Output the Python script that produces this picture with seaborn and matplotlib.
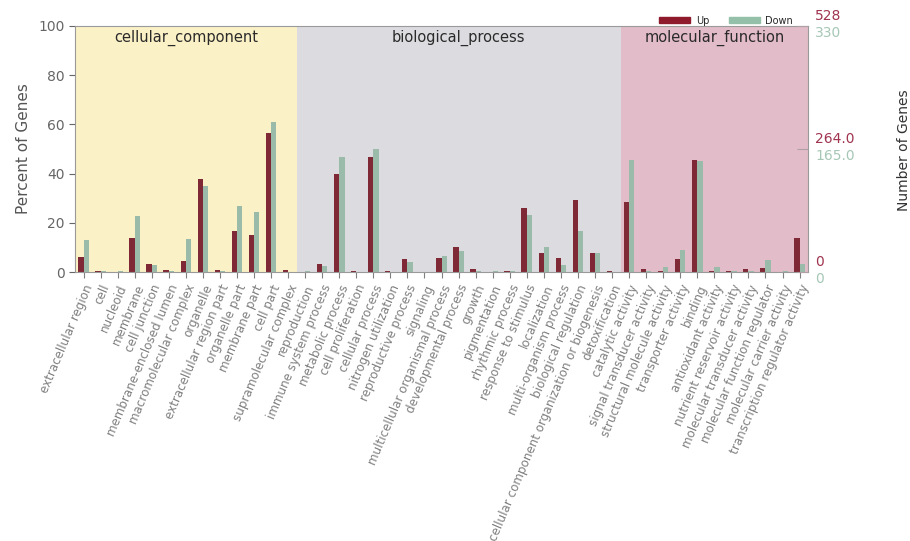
import pandas as pd
import seaborn as sns
import matplotlib.pyplot as plt
from matplotlib.patches import Patch


# ----------------------------
# Data (percent of genes)
# ----------------------------

cc_terms = [
    "extracellular region", "cell", "nucleoid", "membrane", "cell junction",
    "membrane-enclosed lumen", "macromolecular complex", "organelle",
    "extracellular region part", "organelle part", "membrane part", "cell part",
    "supramolecular complex",
]
bp_terms = [
    "reproduction", "immune system process", "metabolic process", "cell proliferation",
    "cellular process", "nitrogen utilization", "reproductive process", "signaling",
    "multicellular organismal process", "developmental process", "growth",
    "pigmentation", "rhythmic process", "response to stimulus", "localization",
    "multi-organism process", "biological regulation",
    "cellular component organization or biogenesis", "detoxification",
]
mf_terms = [
    "catalytic activity", "signal transducer activity", "structural molecule activity",
    "transporter activity", "binding", "antioxidant activity",
    "nutrient reservoir activity", "molecular transducer activity",
    "molecular function regulator", "molecular carrier activity",
    "transcription regulator activity",
]

cc_up   = [6.2, 0.4, 0.2, 13.8, 3.3, 0.7, 4.6, 37.7, 0.7, 16.8, 15.2, 56.5, 0.7]
cc_down = [12.9, 0.5, 0.3, 22.8, 3.0, 0.3, 13.5, 35.0, 0.5, 26.8, 24.5, 61.0, 0.0]

bp_up   = [0.0, 3.3, 39.7, 0.4, 46.7, 0.4, 5.3, 0.0, 5.6, 10.3, 1.2, 0.0, 0.4,
           26.2, 7.7, 5.7, 29.3, 7.7, 0.4]
bp_down = [0.3, 2.3, 46.6, 0.0, 50.1, 0.1, 4.2, 0.2, 6.4, 8.5, 0.4, 0.3, 0.4,
           23.4, 10.3, 2.8, 16.9, 7.7, 0.0]

mf_up   = [28.3, 1.2, 0.4, 5.3, 45.7, 0.4, 0.4, 1.2, 1.5, 0.0, 13.7]
mf_down = [45.5, 0.4, 1.9, 9.1, 45.0, 1.9, 0.3, 0.4, 5.1, 0.3, 3.3]

total_up   = 528
total_down = 330

sections = ["cellular_component", "biological_process", "molecular_function"]
section_colors = ["#fbf1c6", "#dcdbe0", "#e2bcc8"]
up_color   = "#8e1a2c"
down_color = "#94c0a9"

terms = cc_terms + bp_terms + mf_terms
df = pd.DataFrame({
    "Term": terms * 2,
    "Percent": cc_up + bp_up + mf_up + cc_down + bp_down + mf_down,
    "Regulation": ["Up"] * len(terms) + ["Down"] * len(terms),
})


# ----------------------------
# Plot
# ----------------------------

sns.set_style("white")
plt.rcParams["font.family"] = ["DejaVu Sans"]

fig = plt.figure(figsize=(9.1, 5.41), dpi=100)
ax = fig.add_axes([0.0824, 0.497, 0.8056, 0.455])

# section backgrounds
start = -0.5
for name, n, col in zip(sections, [len(cc_terms), len(bp_terms), len(mf_terms)], section_colors):
    ax.axvspan(start, start + n, color=col, zorder=0, lw=0)
    ax.text(start + n / 2, 95, name, ha="center", va="center", fontsize=10.5, color="#2a2a2a")
    start += n

sns.barplot(
    data=df, x="Term", y="Percent", hue="Regulation", order=terms,
    hue_order=["Up", "Down"], palette=[up_color, down_color],
    width=0.62, gap=0, linewidth=0, ax=ax, zorder=2, legend=False,
)

ax.set_xlim(-0.5, len(terms) - 0.5)
ax.set_ylim(0, 100)
ax.set_yticks(range(0, 101, 20))
ax.set_xlabel("")
ax.set_ylabel("Percent of Genes", fontsize=11, color="#555555", labelpad=5)
ax.tick_params(axis="y", labelsize=10, colors="#666666", length=4, direction="out", left=True)
ax.tick_params(axis="x", labelsize=8.6, colors="#808080", length=4, direction="out", bottom=True)
ax.set_xticks(range(len(terms)))
ax.set_xticklabels(terms, rotation=67, ha="right", rotation_mode="anchor")
for s in ax.spines.values():
    s.set_color("#9a9a9a")
    s.set_linewidth(0.8)

# right axis: number of genes
ax2 = ax.twinx()
ax2.set_ylim(0, 100)
ax2.set_yticks([0, 50, 100])
ax2.set_yticklabels([])
ax2.tick_params(axis="y", direction="in", length=8, colors="#b0a0a5", right=True)
for s in ax2.spines.values():
    s.set_visible(False)
for frac in [0, 0.5, 1.0]:
    up_lab = f"{total_up * frac:.1f}" if frac == 0.5 else f"{int(total_up * frac)}"
    dn_lab = f"{total_down * frac:.1f}" if frac == 0.5 else f"{int(total_down * frac)}"
    ax2.annotate(up_lab, (1.0, frac), xycoords="axes fraction", xytext=(5, 7),
                 textcoords="offset points", ha="left", va="center",
                 fontsize=10, color="#a0344f", annotation_clip=False)
    ax2.annotate(dn_lab, (1.0, frac), xycoords="axes fraction", xytext=(5, -5),
                 textcoords="offset points", ha="left", va="center",
                 fontsize=10, color="#a6c7b6", annotation_clip=False)
fig.text(0.993, 0.723, "Number of Genes", rotation=90, ha="center", va="center",
         fontsize=10, color="#333333")

# legend
handles = [Patch(color=up_color, label="Up"), Patch(color=down_color, label="Down")]
ax.legend(handles=handles, loc="lower right", bbox_to_anchor=(0.985, 0.985), ncol=2,
          frameon=False, fontsize=7, handlelength=3.2, handleheight=0.6,
          columnspacing=2.0, borderaxespad=0, handletextpad=0.6)

plt.savefig("out.png", dpi=100)
plt.close()
